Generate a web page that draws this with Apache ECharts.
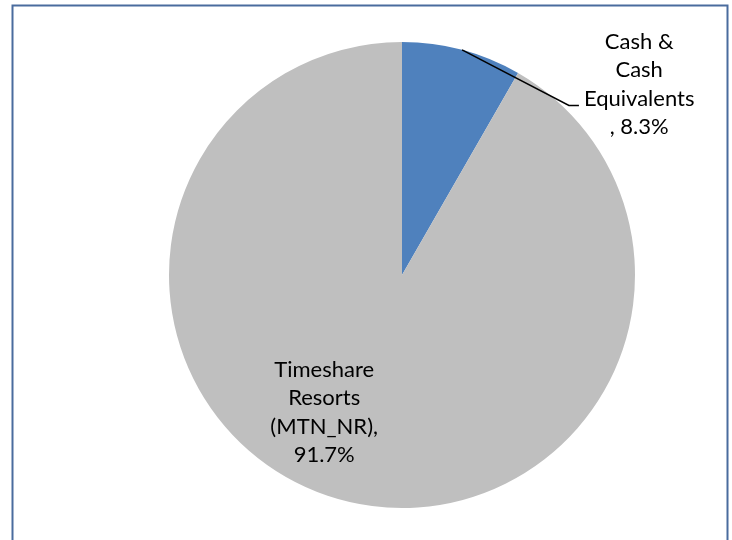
<!DOCTYPE html>
<html>
<head>
<meta charset="utf-8">
<script src="https://cdn.jsdelivr.net/npm/echarts@6/dist/echarts.min.js"></script>
<style>
  html, body { margin: 0; padding: 0; background: #fff; }
  #main { width: 732px; height: 540px; }
</style>
</head>
<body>
<div id="main"></div>
<script>
// 数据
const categories = ['Cash & Cash Equivalents', 'Timeshare Resorts (MTN_NR)'];
const shares = [8.3, 91.7];
// 标签按原图折行
const labelTexts = [
    ['Cash &', 'Cash', 'Equivalents', ', 8.3%'],
    ['Timeshare', 'Resorts', '(MTN_NR),', '91.7%']
];
const colors = ['#4F81BD', '#BFBFBF'];
// 标签偏移（像素）
const labelShift = [[103, 49], [-47, 22]];

const chart = echarts.init(document.getElementById('main'));

const pieBase = {
    type: 'pie',
    center: [402, 275],
    radius: 233,
    startAngle: 90,
    clockwise: true,
    avoidLabelOverlap: false,
    emphasis: { disabled: true }
};

const option = {
    animation: false,
    graphic: [{
        type: 'rect',
        left: 10,
        top: 3,
        shape: { width: 715, height: 600 },
        style: { fill: 'none', stroke: '#4A6C9E', lineWidth: 2 },
        silent: true
    }],
    series: [
        // 扇区
        Object.assign({}, pieBase, {
            z: 2,
            data: categories.map((name, i) => ({
                name: name,
                value: shares[i],
                itemStyle: { color: colors[i] }
            })),
            label: { show: false },
            labelLine: { show: false }
        }),
        // 透明叠加层，只负责标签和引导线（保证引导线在扇区上方）
        Object.assign({}, pieBase, {
            z: 3,
            silent: true,
            data: categories.map((name, i) => ({
                name: name,
                value: shares[i],
                itemStyle: { color: 'rgba(0,0,0,0)' },
                label: i === 0
                    ? { position: 'outside' }
                    : { position: 'inside' },
                labelLine: { show: i === 0 }
            })),
            label: {
                fontFamily: 'Lato',
                fontSize: 22,
                lineHeight: 29,
                color: '#000',
                formatter: function (p) {
                    return labelTexts[p.dataIndex].map(s => '{c|' + s + '}').join('\n');
                },
                rich: {
                    c: { fontFamily: 'Lato', fontSize: 22, lineHeight: 28.5, color: '#000', align: 'center' }
                }
            },
            labelLine: {
                length: 15,
                length2: 10,
                lineStyle: { color: '#000', width: 1.5 }
            },
            labelLayout: function (p) {
                const dx = labelShift[p.dataIndex][0];
                const dy = labelShift[p.dataIndex][1];
                const res = { dx: dx, dy: dy };
                // 引导线：从扇区边缘中点连到移动后的标签左侧
                if (p.dataIndex === 0 && p.labelLinePoints) {
                    const r = p.labelRect;
                    const left = r.x + dx;
                    const y = r.y + r.height / 2 + dy + 21;
                    res.labelLinePoints = [
                        p.labelLinePoints[0],
                        [left - 15, y],
                        [left - 5, y]
                    ];
                }
                return res;
            }
        })
    ]
};

chart.setOption(option);
</script>
</body>
</html>
